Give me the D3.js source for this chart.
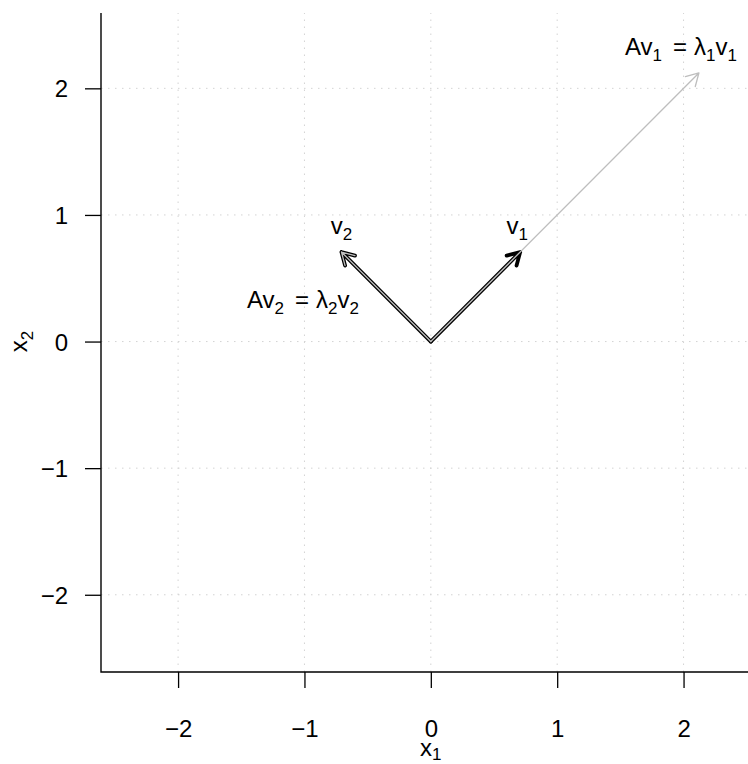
<!DOCTYPE html>
<html>
<head>
<meta charset="utf-8">
<script src="https://cdn.jsdelivr.net/npm/d3@7"></script>
<style>
  body { margin: 0; background: #fff; }
  svg { display: block; font-family: "Liberation Sans", Arial, sans-serif; }
</style>
</head>
<body>
<svg id="chart" width="748" height="764"></svg>
<script>
// eigenvectors of A and their eigenvalues
const vecNames = ["v1", "v2"];
const vecX = [0.7071, -0.7071];
const vecY = [0.7071, 0.7071];
const lambdas = [3, 1];
const xTicks = [-2, -1, 0, 1, 2];
const yTicks = [-2, -1, 0, 1, 2];
const xDomain = [-2.61, 2.51];
const yDomain = [-2.61, 2.595];

const FS = 24;
const SUB = 17;

const svg = d3.select("#chart");
const x = d3.scaleLinear().domain(xDomain).range([101, 748]);
const y = d3.scaleLinear().domain(yDomain).range([672, 13]);
const fmt = d => (d < 0 ? "\u2212" + Math.abs(d) : String(d));

// grid
svg.append("g")
  .selectAll("line")
  .data(xTicks)
  .join("line")
  .attr("x1", d => x(d)).attr("x2", d => x(d))
  .attr("y1", y.range()[0]).attr("y2", y.range()[1])
  .attr("stroke", "#d3d3d3").attr("stroke-dasharray", "1.5,5.5");
svg.append("g")
  .selectAll("line")
  .data(yTicks)
  .join("line")
  .attr("y1", d => y(d)).attr("y2", d => y(d))
  .attr("x1", x.range()[0]).attr("x2", x.range()[1])
  .attr("stroke", "#d3d3d3").attr("stroke-dasharray", "1.5,5.5");

// axes (L shaped box)
const xAxis = d3.axisBottom(x).tickValues(xTicks).tickFormat(fmt).tickSize(16).tickPadding(49);
const yAxis = d3.axisLeft(y).tickValues(yTicks).tickFormat(fmt).tickSize(16).tickPadding(17);

svg.append("g")
  .attr("transform", `translate(0,${y.range()[0]})`)
  .call(xAxis)
  .call(g => g.select(".domain").remove())
  .call(g => g.selectAll("line").attr("stroke-width", 1.3))
  .call(g => g.selectAll("text").attr("font-size", FS).attr("font-family", null).attr("dy", "0"));

svg.append("g")
  .attr("transform", `translate(${x.range()[0]},0)`)
  .call(yAxis)
  .call(g => g.select(".domain").remove())
  .call(g => g.selectAll("line").attr("stroke-width", 1.3))
  .call(g => g.selectAll("text").attr("font-size", FS).attr("font-family", null).attr("dy", "0.36em"));

svg.append("path")
  .attr("d", `M${x.range()[0]},${y.range()[1]}V${y.range()[0]}H${x.range()[1]}`)
  .attr("fill", "none").attr("stroke", "#000").attr("stroke-width", 1.4);

// text with subscripts
function subText(sel, parts, drop = 6) {
  parts.forEach(p => {
    const t = sel.append("tspan").text(p.t);
    if (p.sub) t.attr("font-size", SUB).attr("dy", drop);
    else if (p.up) t.attr("dy", -drop);
    if (p.dx) t.attr("dx", p.dx);
  });
  return sel;
}

subText(svg.append("text")
  .attr("x", x(0)).attr("y", 756)
  .attr("text-anchor", "middle").attr("font-size", FS),
  [{ t: "x" }, { t: "1", sub: true }], 4);

subText(svg.append("text")
  .attr("transform", `translate(27,${y(0)}) rotate(-90)`)
  .attr("text-anchor", "middle").attr("font-size", FS),
  [{ t: "x" }, { t: "2", sub: true }]);

// arrows
function arrow(x0, y0, x1, y1, color, width, headLen) {
  const ang = Math.atan2(y1 - y0, x1 - x0);
  const a = Math.PI / 6;
  const p1 = [x1 - headLen * Math.cos(ang - a), y1 - headLen * Math.sin(ang - a)];
  const p2 = [x1 - headLen * Math.cos(ang + a), y1 - headLen * Math.sin(ang + a)];
  svg.append("path")
    .attr("d", `M${x0},${y0}L${x1},${y1}M${p1[0]},${p1[1]}L${x1},${y1}L${p2[0]},${p2[1]}`)
    .attr("fill", "none").attr("stroke", color).attr("stroke-width", width)
    .attr("stroke-linecap", "round").attr("stroke-linejoin", "round");
}

vecNames.forEach((n, i) => {
  arrow(x(0), y(0), x(vecX[i]), y(vecY[i]), "#000", 3.8, 14);
});
vecNames.forEach((n, i) => {
  arrow(x(0), y(0), x(lambdas[i] * vecX[i]), y(lambdas[i] * vecY[i]), "#bebebe", 1.3, 14);
});

// labels
const vLabelDx = [-3, 0];
vecNames.forEach((n, i) => {
  subText(svg.append("text")
    .attr("x", x(vecX[i]) + vLabelDx[i]).attr("y", y(vecY[i]) - 18)
    .attr("text-anchor", "middle").attr("font-size", FS),
    [{ t: "v" }, { t: n.slice(1), sub: true }]);
});

const avPos = [[681, 55], [303, 308]];
vecNames.forEach((n, i) => {
  const k = n.slice(1);
  subText(svg.append("text")
    .attr("x", avPos[i][0]).attr("y", avPos[i][1])
    .attr("text-anchor", "middle").attr("font-size", FS),
    [{ t: "Av" }, { t: k, sub: true }, { t: "=", up: true, dx: 11 },
     { t: "λ", dx: 7 }, { t: k, sub: true }, { t: "v", up: true }, { t: k, sub: true }]);
});
</script>
</body>
</html>
